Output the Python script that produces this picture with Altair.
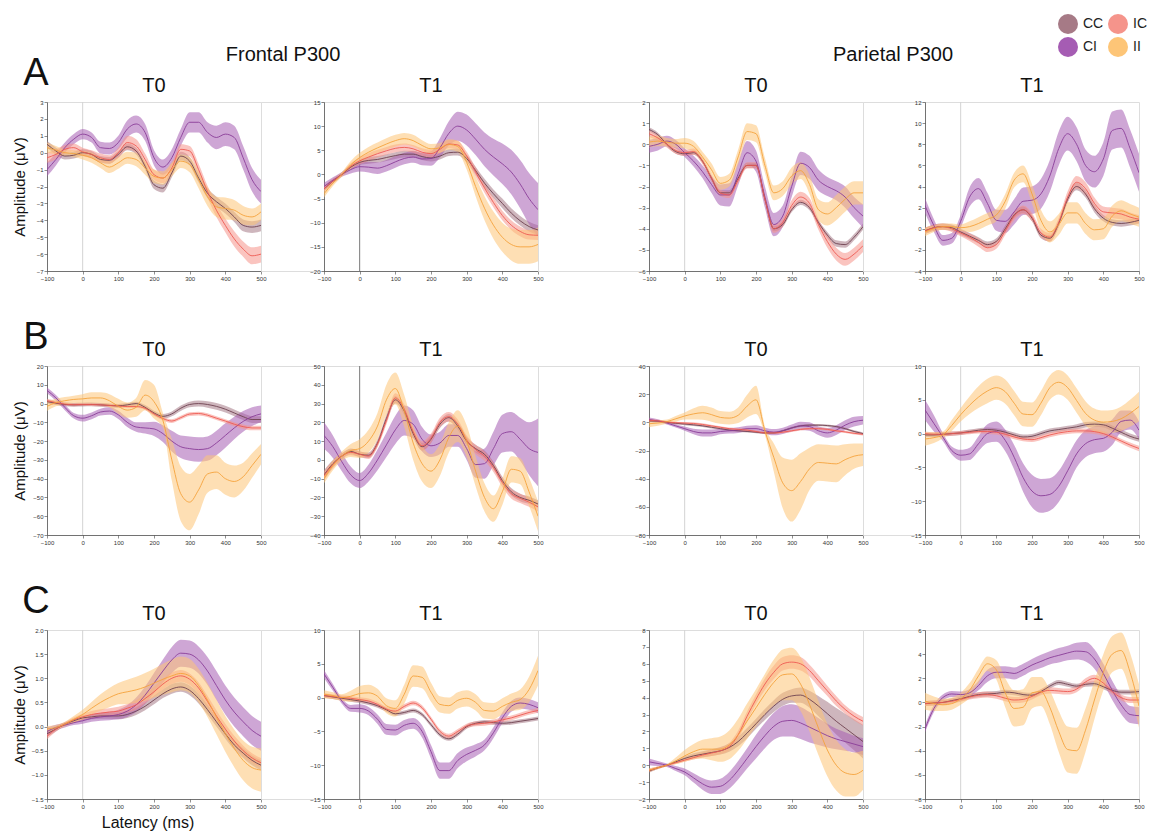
import altair as alt
import pandas as pd

FONT = "Liberation Sans"

LATENCY = [-100, -75, -50, -25, 0, 25, 50, 75, 100, 125, 150, 175, 200,
           225, 250, 275, 300, 325, 350, 375, 400, 425, 450, 475, 500]
X_TICKS = [-100, 0, 100, 200, 300, 400, 500]
ZERO_LINE = [0]
GROUPS = ["CC", "CI", "IC", "II"]
DRAW_ORDER = ["CC", "CI", "IC", "II"]
BAND_COLORS = ["#a67a86", "#a55cb3", "#f5948b", "#fdc577"]
LINE_COLORS = ["#6e4250", "#8a3d98", "#ee5a52", "#f5a33c"]

# ---------------- Row A ----------------
A1_YTICKS = [-7, -6, -5, -4, -3, -2, -1, 0, 1, 2, 3]
A1_MEAN = {
    "CC": [0.5, 0.1, -0.2, -0.15, 0.0, -0.1, -0.4, -0.45, -0.1, 0.35, 0.1, -0.8, -1.9, -2.1, -1.2, -0.2, -0.5, -1.5, -2.4, -2.9, -3.3, -3.8, -4.3, -4.4, -4.3],
    "IC": [-0.3, -0.1, 0.2, 0.3, 0.05, -0.1, -0.3, -0.4, 0.0, 0.6, 0.4, -0.4, -1.3, -1.5, -0.9, 0.2, 0.1, -1.0, -2.3, -3.4, -4.3, -5.1, -5.7, -6.1, -6.0],
    "CI": [-1.0, -0.4, 0.3, 0.8, 1.1, 0.9, 0.3, 0.25, 0.6, 1.4, 1.7, 1.2, -0.3, -0.85, -0.3, 0.9, 1.8, 1.8, 1.2, 0.9, 1.1, 0.9, -0.3, -1.6, -2.3],
    "II": [0.3, 0.15, 0.0, -0.05, -0.15, -0.3, -0.6, -0.85, -0.6, -0.3, -0.4, -0.9, -1.4, -1.5, -1.0, -0.5, -0.7, -1.6, -2.6, -3.2, -3.3, -3.4, -3.7, -3.8, -3.5],
}
A1_HALF = {
    "CC": [0.2, 0.2, 0.2, 0.2, 0.2, 0.2, 0.2, 0.2, 0.2, 0.2, 0.2, 0.2, 0.25, 0.25, 0.25, 0.25, 0.25, 0.25, 0.3, 0.3, 0.3, 0.3, 0.35, 0.35, 0.35],
    "IC": [0.3, 0.3, 0.25, 0.25, 0.25, 0.25, 0.25, 0.25, 0.3, 0.4, 0.4, 0.35, 0.3, 0.3, 0.3, 0.3, 0.3, 0.35, 0.35, 0.4, 0.4, 0.45, 0.45, 0.5, 0.5],
    "CI": [0.4, 0.35, 0.3, 0.3, 0.3, 0.3, 0.35, 0.35, 0.4, 0.5, 0.5, 0.5, 0.45, 0.45, 0.5, 0.5, 0.6, 0.6, 0.6, 0.7, 0.7, 0.7, 0.7, 0.7, 0.7],
    "II": [0.3, 0.25, 0.2, 0.2, 0.25, 0.3, 0.3, 0.35, 0.35, 0.35, 0.4, 0.4, 0.4, 0.4, 0.4, 0.4, 0.45, 0.5, 0.55, 0.6, 0.65, 0.6, 0.55, 0.5, 0.5],
}

A2_YTICKS = [-20, -15, -10, -5, 0, 5, 10, 15]
A2_MEAN = {
    "CC": [-3.0, -1.4, 0.0, 1.5, 2.5, 2.9, 3.1, 3.5, 3.9, 4.2, 4.2, 3.7, 3.4, 3.8, 4.5, 4.6, 3.3, 0.8, -1.8, -4.0, -6.0, -8.0, -9.6, -10.8, -11.5],
    "IC": [-3.0, -1.4, 0.0, 1.7, 2.8, 3.6, 4.3, 4.9, 5.4, 5.6, 5.3, 4.6, 4.3, 5.2, 6.3, 6.1, 3.8, 0.5, -2.8, -5.8, -8.5, -10.5, -11.8, -12.5, -12.6],
    "CI": [-2.5, -1.2, 0.0, 1.0, 1.6, 1.5, 1.3, 1.8, 2.6, 3.3, 3.6, 3.2, 3.3, 5.5, 8.5, 10.0, 9.2, 7.3, 5.2, 3.6, 2.2, 0.5, -2.0, -5.0, -7.3],
    "II": [-4.0, -1.8, 0.0, 2.0, 3.5, 4.6, 5.5, 6.3, 7.0, 7.4, 7.0, 6.0, 5.3, 5.5, 6.2, 5.8, 2.5, -2.5, -7.0, -10.5, -13.0, -14.5, -15.0, -15.0, -14.5],
}
A2_HALF = {
    "CC": [0.6, 0.5, 0.4, 0.5, 0.6, 0.7, 0.7, 0.7, 0.7, 0.7, 0.7, 0.7, 0.7, 0.7, 0.7, 0.7, 0.8, 0.8, 0.9, 0.9, 1.0, 1.0, 1.0, 1.0, 1.0],
    "IC": [0.6, 0.5, 0.4, 0.6, 0.7, 0.8, 0.8, 0.8, 0.8, 0.8, 0.8, 0.8, 0.8, 0.8, 0.9, 0.9, 0.9, 1.0, 1.0, 1.0, 1.0, 1.0, 1.0, 1.0, 1.0],
    "CI": [0.8, 0.6, 0.5, 0.8, 1.0, 1.1, 1.2, 1.2, 1.2, 1.2, 1.2, 1.3, 1.5, 2.0, 2.5, 3.0, 3.2, 3.3, 3.5, 3.8, 4.2, 4.6, 5.0, 5.3, 5.5],
    "II": [0.8, 0.6, 0.5, 0.8, 1.0, 1.1, 1.1, 1.2, 1.2, 1.2, 1.2, 1.1, 1.0, 1.0, 1.1, 1.2, 1.5, 2.0, 2.5, 2.8, 3.0, 3.3, 3.5, 3.5, 3.5],
}

A3_YTICKS = [-6, -5, -4, -3, -2, -1, 0, 1, 2]
A3_MEAN = {
    "CC": [0.7, 0.45, 0.0, -0.35, -0.45, -0.4, -0.8, -1.6, -2.3, -2.3, -1.6, -1.0, -1.0, -2.6, -4.0, -3.8, -3.1, -2.75, -3.0, -3.7, -4.3, -4.7, -4.75, -4.4, -3.9],
    "IC": [0.5, 0.3, 0.0, -0.3, -0.4, -0.35, -0.8, -1.6, -2.3, -2.4, -1.7, -1.0, -1.0, -2.6, -4.0, -3.7, -2.9, -2.5, -2.8, -3.8, -4.6, -5.2, -5.45, -5.2, -4.8],
    "CI": [-0.1, 0.0, 0.15, 0.0, -0.4, -0.8, -1.3, -1.9, -2.4, -2.4, -1.4, -0.4, -0.8, -2.5, -3.8, -3.4, -2.0, -0.9, -1.1, -1.7, -2.0, -2.2, -2.5, -3.0, -3.4],
    "II": [0.1, 0.15, 0.1, 0.05, 0.05, -0.1, -0.6, -1.2, -1.85, -1.7, -0.6, 0.6, 0.5, -1.0, -2.3, -2.1, -1.5, -1.25, -1.9, -3.1, -3.3, -3.0, -2.6, -2.3, -2.3],
}
A3_HALF = {
    "CC": [0.1, 0.1, 0.1, 0.1, 0.1, 0.1, 0.1, 0.12, 0.12, 0.12, 0.12, 0.12, 0.12, 0.12, 0.12, 0.12, 0.12, 0.12, 0.12, 0.12, 0.15, 0.15, 0.15, 0.15, 0.15],
    "IC": [0.15, 0.15, 0.15, 0.15, 0.15, 0.15, 0.15, 0.15, 0.15, 0.15, 0.15, 0.15, 0.15, 0.2, 0.2, 0.2, 0.25, 0.25, 0.25, 0.25, 0.3, 0.3, 0.3, 0.3, 0.3],
    "CI": [0.3, 0.3, 0.25, 0.2, 0.2, 0.25, 0.3, 0.4, 0.5, 0.55, 0.55, 0.55, 0.5, 0.5, 0.55, 0.5, 0.5, 0.55, 0.55, 0.5, 0.45, 0.45, 0.5, 0.5, 0.55],
    "II": [0.25, 0.25, 0.2, 0.2, 0.25, 0.25, 0.25, 0.3, 0.3, 0.3, 0.35, 0.4, 0.4, 0.35, 0.35, 0.35, 0.4, 0.4, 0.45, 0.5, 0.55, 0.6, 0.6, 0.55, 0.55],
}

A4_YTICKS = [-4, -2, 0, 2, 4, 6, 8, 10, 12]
A4_MEAN = {
    "CC": [-0.2, 0.1, 0.2, 0.1, -0.3, -0.7, -1.1, -1.5, -1.2, 0.0, 1.3, 1.8, 1.0, -0.6, -0.9, 0.5, 2.8, 4.0, 3.3, 1.9, 1.0, 0.6, 0.5, 0.6, 0.8],
    "IC": [-0.2, 0.1, 0.2, 0.0, -0.4, -0.8, -1.3, -1.8, -1.5, -0.2, 1.2, 1.8, 1.1, -0.4, -0.8, 0.6, 3.0, 4.4, 3.8, 2.4, 1.6, 1.5, 1.4, 1.1, 0.9],
    "CI": [2.2, 0.3, -1.1, -0.9, 0.7, 3.0, 3.8, 2.4, 0.8, 0.7, 1.6, 2.6, 2.7, 3.3, 5.0, 7.6, 9.0, 8.0, 6.0, 5.4, 6.6, 9.3, 9.5, 7.6, 5.3],
    "II": [-0.3, 0.0, 0.2, 0.2, 0.1, 0.2, 0.5, 0.9, 1.3, 2.6, 4.6, 5.2, 3.3, 0.8, -0.3, 0.4, 1.5, 1.5, 0.5, -0.1, 0.0, 1.2, 1.7, 1.4, 1.1],
}
A4_HALF = {
    "CC": [0.3, 0.3, 0.3, 0.3, 0.3, 0.3, 0.3, 0.3, 0.3, 0.3, 0.3, 0.3, 0.3, 0.3, 0.3, 0.3, 0.3, 0.35, 0.35, 0.35, 0.3, 0.3, 0.3, 0.3, 0.3],
    "IC": [0.3, 0.3, 0.3, 0.3, 0.3, 0.35, 0.4, 0.4, 0.4, 0.4, 0.4, 0.4, 0.4, 0.4, 0.4, 0.45, 0.55, 0.6, 0.6, 0.55, 0.5, 0.5, 0.5, 0.45, 0.4],
    "CI": [0.7, 0.6, 0.5, 0.5, 0.6, 0.9, 1.0, 1.0, 1.0, 1.1, 1.2, 1.3, 1.3, 1.4, 1.5, 1.6, 1.6, 1.6, 1.5, 1.5, 1.6, 1.8, 1.8, 1.8, 1.8],
    "II": [0.4, 0.3, 0.3, 0.3, 0.3, 0.5, 0.6, 0.6, 0.6, 0.7, 0.7, 0.8, 0.9, 1.0, 1.0, 1.0, 1.0, 1.0, 1.0, 1.0, 1.0, 1.0, 1.0, 0.95, 0.9],
}

# ---------------- Row B ----------------
B1_YTICKS = [-70, -60, -50, -40, -30, -20, -10, 0, 10, 20]
B1_MEAN = {
    "CC": [1.0, 0.2, -0.5, -0.7, -0.6, -0.5, -0.7, -1.0, -1.2, -0.7, 0.0, -2.0, -5.0, -6.8, -5.5, -2.5, -0.5, 0.0, -0.5, -1.5, -3.0, -5.0, -7.0, -8.5, -8.5],
    "IC": [1.5, 0.5, -0.3, -0.6, -0.5, -0.5, -0.7, -1.0, -1.3, -1.6, -1.6, -2.5, -5.5, -8.0, -9.3, -7.5, -5.6, -5.3, -6.2, -7.8, -9.3, -11.0, -12.3, -13.0, -13.0],
    "CI": [7.0, 3.0, -2.0, -6.5, -7.8, -6.5, -4.5, -4.0, -6.0, -10.0, -12.5, -13.0, -13.5, -16.0, -20.0, -23.0, -24.0, -24.5, -24.0, -21.0, -17.0, -13.0, -9.5, -7.0, -5.5],
    "II": [-1.5, 0.5, 1.5, 2.2, 2.5, 3.0, 3.0, 1.5, -1.5, -3.5, -2.0, 4.5, 1.0, -9.0, -30.0, -48.0, -52.5, -46.0, -37.5, -36.5, -40.0, -41.5, -39.0, -33.0, -27.0],
}
B1_HALF = {
    "CC": [1.0, 1.0, 1.0, 1.0, 1.0, 1.0, 1.0, 1.0, 1.0, 1.0, 1.0, 1.2, 1.2, 1.3, 1.3, 1.4, 1.5, 1.6, 1.7, 1.8, 1.8, 1.8, 1.8, 1.8, 1.8],
    "IC": [1.0, 1.0, 0.8, 0.8, 0.8, 0.8, 0.8, 0.8, 0.8, 0.8, 0.8, 0.9, 1.0, 1.0, 1.0, 1.0, 1.0, 1.0, 1.0, 1.0, 1.0, 1.1, 1.2, 1.2, 1.2],
    "CI": [1.5, 1.5, 1.5, 1.5, 1.8, 1.8, 1.8, 2.0, 2.2, 2.5, 2.5, 3.0, 3.8, 4.5, 5.5, 6.0, 6.5, 6.5, 6.5, 6.5, 6.5, 6.0, 5.5, 5.0, 4.5],
    "II": [2.5, 2.0, 2.0, 2.0, 2.5, 3.0, 3.0, 3.5, 4.0, 4.0, 5.0, 8.0, 9.0, 4.0, 11.0, 14.5, 15.0, 13.0, 10.0, 9.0, 8.5, 8.5, 7.5, 6.5, 5.5],
}

B2_YTICKS = [-40, -30, -20, -10, 0, 10, 20, 30, 40, 50]
B2_MEAN = {
    "CC": [-8.0, -2.0, 2.0, 4.5, 3.0, 2.5, 9.0, 22.0, 32.0, 26.0, 14.0, 7.0, 11.0, 19.0, 22.5, 18.0, 10.0, 6.0, 3.0, -3.0, -11.0, -17.0, -20.0, -21.5, -23.5],
    "IC": [-8.5, -2.5, 2.0, 4.0, 3.0, 2.0, 8.5, 21.0, 33.0, 27.0, 15.0, 7.5, 11.5, 20.0, 23.0, 19.0, 10.5, 5.5, 2.0, -4.0, -12.0, -18.0, -20.5, -22.5, -25.0],
    "CI": [13.0, 7.0, -1.0, -8.0, -11.0, -7.0, 0.0, 8.0, 16.0, 21.0, 19.0, 11.0, 7.5, 9.0, 13.0, 13.0, 6.0, -2.5, -2.0, 6.0, 14.0, 15.0, 11.0, 6.0, 4.0],
    "II": [-10.0, -3.0, 2.0, 5.0, 6.0, 10.0, 18.0, 32.0, 38.0, 26.0, 9.0, -2.0, -6.0, 0.0, 12.0, 18.0, 10.0, -6.0, -20.0, -26.0, -17.0, -5.0, -6.0, -17.0, -30.0],
}
B2_HALF = {
    "CC": [2.5, 2.0, 1.5, 1.5, 1.5, 1.5, 1.8, 2.0, 2.0, 2.0, 2.0, 2.0, 2.0, 2.0, 2.0, 2.0, 2.0, 2.0, 2.0, 2.0, 2.0, 2.0, 2.0, 2.0, 2.0],
    "IC": [2.5, 2.0, 1.5, 1.5, 1.5, 1.5, 1.8, 2.2, 2.5, 2.5, 2.5, 2.5, 2.5, 2.5, 2.5, 2.5, 2.5, 2.5, 2.5, 2.5, 2.5, 2.5, 2.5, 2.5, 2.5],
    "CI": [7.0, 6.0, 5.0, 4.5, 4.0, 4.5, 5.5, 6.5, 7.5, 8.0, 7.5, 6.5, 6.0, 6.0, 6.0, 6.0, 6.0, 7.0, 8.0, 9.0, 10.0, 10.5, 11.5, 14.0, 18.0],
    "II": [2.5, 2.5, 2.5, 3.5, 5.0, 6.0, 7.0, 8.0, 8.5, 8.5, 9.0, 9.5, 9.0, 8.5, 8.0, 8.5, 8.5, 8.0, 7.5, 7.0, 7.0, 7.0, 7.0, 7.5, 8.0],
}

B3_YTICKS = [-80, -60, -40, -20, 0, 20, 40]
B3_MEAN = {
    "CC": [1.0, 0.8, 0.0, -0.7, -1.2, -1.8, -2.5, -3.5, -4.5, -5.5, -6.0, -6.5, -7.0, -7.5, -7.5, -6.0, -4.0, -2.5, -2.0, -2.0, -2.3, -3.0, -4.5, -6.5, -8.0],
    "IC": [1.5, 1.0, 0.2, -0.3, -0.5, -0.8, -1.5, -2.5, -3.5, -4.5, -5.0, -5.5, -6.5, -7.5, -7.5, -7.0, -6.0, -5.0, -4.5, -4.5, -5.0, -6.0, -6.8, -7.8, -8.5],
    "CI": [2.0, 1.0, -0.5, -2.5, -4.5, -6.5, -7.5, -7.5, -6.5, -6.0, -5.5, -4.5, -4.5, -6.0, -7.0, -6.0, -4.0, -2.5, -3.0, -6.0, -7.5, -5.5, -2.0, 0.5, 1.5],
    "II": [-1.0, -0.5, 0.5, 2.5, 4.5, 6.0, 6.8, 5.5, 3.5, 3.0, 5.0, 11.5, 16.0, -6.0, -25.0, -43.0, -48.5, -42.0, -33.0, -28.5, -29.0, -29.5, -26.5, -24.0, -23.0],
}
B3_HALF = {
    "CC": [1.0, 0.8, 0.8, 0.8, 0.8, 0.8, 0.8, 0.8, 0.8, 0.8, 0.8, 0.8, 0.8, 0.8, 0.8, 0.8, 0.8, 0.8, 0.8, 0.8, 0.8, 0.8, 0.8, 0.8, 0.8],
    "IC": [1.0, 0.8, 0.8, 0.8, 0.8, 0.8, 0.8, 0.8, 0.8, 0.8, 0.8, 0.8, 0.8, 0.8, 0.8, 0.8, 0.8, 0.8, 0.8, 0.8, 0.8, 0.8, 0.8, 0.8, 0.8],
    "CI": [1.5, 1.2, 1.0, 1.2, 1.5, 2.0, 2.5, 2.5, 2.0, 2.0, 2.0, 2.0, 2.5, 2.2, 2.2, 2.2, 2.5, 3.0, 3.0, 3.0, 3.5, 3.5, 3.5, 3.5, 3.0],
    "II": [2.5, 2.0, 1.5, 2.0, 2.5, 4.0, 5.0, 5.0, 4.5, 4.5, 5.5, 8.0, 10.0, 3.0, 10.0, 18.0, 22.0, 20.0, 15.0, 13.0, 13.0, 13.0, 11.0, 9.0, 8.0],
}

B4_YTICKS = [-15, -10, -5, 0, 5, 10]
B4_MEAN = {
    "CC": [-0.2, -0.2, -0.1, 0.0, 0.1, 0.3, 0.5, 0.6, 0.5, 0.2, -0.2, -0.5, -0.4, 0.0, 0.4, 0.6, 0.8, 1.0, 1.3, 1.4, 1.3, 0.8, 0.2, -0.4, -0.8],
    "IC": [0.0, -0.1, -0.1, 0.0, 0.1, 0.2, 0.3, 0.3, 0.2, -0.1, -0.5, -0.8, -0.9, -0.6, -0.2, 0.1, 0.3, 0.4, 0.4, 0.3, 0.0, -0.5, -1.1, -1.7, -2.2],
    "CI": [3.5, 1.5, -0.5, -2.5, -3.2, -3.0, -1.5, 0.0, 0.3, -1.0, -3.5, -6.5, -8.5, -9.2, -9.0, -7.8, -5.5, -3.0, -1.5, -0.9, -0.7, 0.2, 1.8, 2.0, 0.5],
    "II": [-0.8, -0.6, -0.2, 1.2, 2.8, 4.2, 5.4, 6.3, 6.8, 6.2, 4.5, 2.9, 2.8, 4.5, 6.8, 7.6, 6.8, 4.9, 3.0, 2.0, 1.7, 1.8, 2.2, 3.0, 4.0],
}
B4_HALF = {
    "CC": [0.3, 0.3, 0.3, 0.3, 0.3, 0.3, 0.3, 0.3, 0.3, 0.35, 0.35, 0.35, 0.35, 0.35, 0.35, 0.35, 0.35, 0.4, 0.4, 0.4, 0.4, 0.4, 0.4, 0.4, 0.4],
    "IC": [0.3, 0.3, 0.3, 0.3, 0.3, 0.3, 0.3, 0.35, 0.35, 0.35, 0.35, 0.35, 0.35, 0.35, 0.35, 0.35, 0.35, 0.35, 0.35, 0.35, 0.35, 0.35, 0.35, 0.4, 0.4],
    "CI": [1.5, 1.2, 0.6, 0.6, 0.8, 0.9, 1.1, 1.4, 1.5, 1.6, 1.8, 2.1, 2.4, 2.5, 2.4, 2.3, 2.2, 2.0, 2.0, 2.0, 2.0, 1.9, 1.6, 1.4, 1.3],
    "II": [1.0, 0.8, 0.5, 0.8, 1.0, 1.3, 1.6, 1.8, 1.8, 1.8, 1.8, 1.8, 1.8, 1.8, 1.8, 1.8, 1.8, 1.8, 1.8, 1.7, 1.7, 1.7, 1.8, 2.0, 2.2],
}

# ---------------- Row C ----------------
C1_YTICKS = [-1.5, -1, -0.5, 0, 0.5, 1, 1.5, 2]
C1_MEAN = {
    "CC": [-0.15, -0.05, 0.05, 0.12, 0.18, 0.2, 0.22, 0.22, 0.22, 0.25, 0.32, 0.42, 0.55, 0.68, 0.78, 0.82, 0.75, 0.58, 0.35, 0.1, -0.15, -0.38, -0.55, -0.7, -0.8],
    "IC": [-0.2, -0.05, 0.05, 0.14, 0.2, 0.25, 0.28, 0.3, 0.32, 0.38, 0.45, 0.58, 0.72, 0.88, 1.0, 1.05, 0.98, 0.8, 0.52, 0.22, -0.05, -0.3, -0.5, -0.65, -0.75],
    "CI": [-0.1, -0.02, 0.03, 0.08, 0.12, 0.17, 0.2, 0.22, 0.25, 0.32, 0.45, 0.65, 0.9, 1.15, 1.38, 1.52, 1.5, 1.38, 1.15, 0.85, 0.55, 0.3, 0.1, -0.08, -0.2],
    "II": [-0.05, -0.02, 0.05, 0.15, 0.25, 0.38, 0.5, 0.6, 0.68, 0.72, 0.76, 0.82, 0.9, 0.98, 1.05, 1.1, 1.05, 0.85, 0.55, 0.2, -0.15, -0.45, -0.7, -0.85, -0.9],
}
C1_HALF = {
    "CC": [0.06, 0.05, 0.04, 0.04, 0.05, 0.05, 0.06, 0.06, 0.07, 0.07, 0.08, 0.08, 0.09, 0.09, 0.1, 0.1, 0.1, 0.1, 0.1, 0.1, 0.1, 0.1, 0.1, 0.1, 0.1],
    "IC": [0.06, 0.05, 0.04, 0.05, 0.06, 0.07, 0.08, 0.08, 0.09, 0.09, 0.1, 0.1, 0.1, 0.11, 0.12, 0.12, 0.12, 0.12, 0.12, 0.12, 0.11, 0.11, 0.11, 0.1, 0.1],
    "CI": [0.08, 0.06, 0.05, 0.05, 0.06, 0.07, 0.08, 0.09, 0.1, 0.12, 0.15, 0.18, 0.21, 0.24, 0.27, 0.28, 0.28, 0.28, 0.29, 0.3, 0.3, 0.3, 0.3, 0.3, 0.3],
    "II": [0.06, 0.05, 0.05, 0.07, 0.1, 0.13, 0.17, 0.2, 0.22, 0.25, 0.27, 0.29, 0.3, 0.32, 0.34, 0.35, 0.35, 0.35, 0.35, 0.36, 0.37, 0.39, 0.41, 0.43, 0.45],
}

C2_YTICKS = [-15, -10, -5, 0, 5, 10]
C2_MEAN = {
    "CC": [0.3, 0.1, -0.1, -0.3, -0.5, -0.8, -1.2, -1.8, -2.4, -2.2, -1.9, -2.5, -4.0, -5.5, -6.1, -5.4, -4.3, -3.8, -3.6, -3.7, -3.8, -3.7, -3.5, -3.3, -3.1],
    "IC": [0.3, 0.15, 0.0, -0.1, -0.3, -0.5, -1.0, -1.7, -2.0, -1.3, -0.8, -1.5, -3.2, -5.0, -5.7, -5.0, -4.2, -3.9, -3.8, -3.6, -3.3, -3.0, -2.6, -2.2, -1.9],
    "CI": [3.5, 1.5, -0.5, -1.6, -1.6, -2.0, -3.2, -4.7, -4.8, -4.1, -3.8, -5.0, -8.0, -10.8, -10.8, -9.3, -8.4, -7.8, -7.0, -5.2, -3.0, -1.3, -0.8, -1.0, -1.5],
    "II": [0.5, 0.3, 0.0, 0.2, 0.6, 0.7, 0.2, -1.2, -1.6, 0.5, 3.2, 3.0, 0.8, -1.0, -1.2, -0.4, -0.1, -0.7, -1.9, -2.0, -1.3, -0.7, -0.3, 1.2, 4.0],
}
C2_HALF = {
    "CC": [0.3, 0.3, 0.3, 0.3, 0.3, 0.3, 0.3, 0.3, 0.3, 0.3, 0.3, 0.3, 0.3, 0.3, 0.3, 0.3, 0.3, 0.3, 0.3, 0.3, 0.3, 0.3, 0.3, 0.3, 0.3],
    "IC": [0.35, 0.35, 0.35, 0.35, 0.35, 0.35, 0.35, 0.35, 0.35, 0.35, 0.35, 0.35, 0.35, 0.35, 0.35, 0.35, 0.35, 0.35, 0.35, 0.35, 0.35, 0.35, 0.35, 0.35, 0.35],
    "CI": [0.6, 0.5, 0.4, 0.5, 0.6, 0.6, 0.7, 0.8, 0.8, 0.8, 0.8, 0.9, 1.0, 1.2, 1.2, 1.1, 1.0, 0.9, 0.8, 0.8, 0.8, 0.8, 0.8, 0.8, 0.8],
    "II": [0.6, 0.5, 0.5, 0.8, 1.1, 1.2, 1.1, 1.1, 1.2, 1.4, 1.6, 1.6, 1.4, 1.2, 1.2, 1.2, 1.2, 1.2, 1.2, 1.2, 1.2, 1.3, 1.5, 1.9, 2.2],
}

C3_YTICKS = [-2, -1, 0, 1, 2, 3, 4, 5, 6, 7, 8]
C3_MEAN = {
    "CC": [-0.35, -0.15, 0.0, 0.2, 0.4, 0.55, 0.65, 0.75, 0.85, 1.05, 1.4, 1.9, 2.45, 3.0, 3.5, 3.9, 4.1, 4.15, 3.9, 3.5, 3.05, 2.6, 2.2, 1.8, 1.4],
    "IC": [-0.3, -0.15, 0.0, 0.15, 0.3, 0.45, 0.6, 0.72, 0.85, 1.1, 1.8, 2.9, 3.9, 4.8, 5.5, 6.0, 6.1, 6.0, 5.6, 5.0, 4.4, 3.8, 3.3, 2.9, 2.6],
    "CI": [0.2, 0.1, 0.0, -0.2, -0.4, -0.75, -1.1, -1.3, -1.25, -0.9, -0.3, 0.4, 1.1, 1.75, 2.3, 2.6, 2.65, 2.5, 2.25, 2.0, 1.75, 1.55, 1.4, 1.25, 1.1],
    "II": [-0.3, -0.15, 0.0, 0.25, 0.55, 0.8, 0.95, 0.95, 0.95, 1.2, 1.8, 2.6, 3.4, 4.2, 4.9, 5.35, 5.4, 4.8, 3.6, 2.2, 0.9, 0.0, -0.45, -0.55, -0.3],
}
C3_HALF = {
    "CC": [0.1, 0.08, 0.06, 0.1, 0.12, 0.15, 0.18, 0.2, 0.22, 0.25, 0.28, 0.3, 0.3, 0.32, 0.35, 0.38, 0.4, 0.45, 0.5, 0.6, 0.7, 0.78, 0.85, 0.92, 1.0],
    "IC": [0.1, 0.08, 0.06, 0.08, 0.1, 0.12, 0.15, 0.18, 0.2, 0.22, 0.25, 0.28, 0.3, 0.35, 0.4, 0.4, 0.4, 0.4, 0.35, 0.35, 0.3, 0.3, 0.25, 0.25, 0.25],
    "CI": [0.2, 0.15, 0.1, 0.15, 0.2, 0.28, 0.35, 0.4, 0.45, 0.5, 0.55, 0.6, 0.7, 0.75, 0.8, 0.9, 0.95, 0.95, 0.9, 0.8, 0.7, 0.6, 0.55, 0.5, 0.5],
    "II": [0.1, 0.08, 0.06, 0.2, 0.35, 0.45, 0.55, 0.65, 0.75, 0.85, 0.95, 1.05, 1.1, 1.2, 1.35, 1.5, 1.55, 1.6, 1.6, 1.6, 1.55, 1.5, 1.4, 1.3, 1.15],
}

C4_YTICKS = [-8, -6, -4, -2, 0, 2, 4, 6]
C4_MEAN = {
    "CC": [-0.1, -0.05, 0.0, 0.15, 0.3, 0.5, 0.65, 0.7, 0.75, 0.85, 0.8, 0.65, 0.6, 0.9, 1.35, 1.65, 1.5, 1.35, 1.5, 1.55, 1.3, 1.0, 0.85, 0.85, 0.9],
    "IC": [-0.1, -0.05, 0.0, 0.1, 0.25, 0.45, 0.6, 0.65, 0.55, 0.35, 0.2, 0.25, 0.5, 0.85, 1.0, 0.95, 0.9, 1.1, 1.7, 2.0, 1.6, 0.9, 0.4, 0.2, 0.2],
    "CI": [-2.2, -0.5, 0.4, 0.7, 0.65, 0.8, 1.4, 2.2, 2.5, 2.5, 2.4, 2.7, 3.1, 3.4, 3.7, 3.9, 4.1, 4.25, 4.2, 3.6, 2.4, 1.0, -0.2, -1.0, -1.1],
    "II": [0.1, -0.1, -0.2, -0.1, 0.3, 1.0, 2.2, 3.2, 2.7, 0.8, -0.5, -0.4, 0.8, 0.9, -0.4, -2.4, -3.9, -4.0, -2.3, 0.2, 2.5, 4.0, 4.3, 2.5, -0.3],
}
C4_HALF = {
    "CC": [0.2, 0.2, 0.2, 0.2, 0.2, 0.2, 0.2, 0.2, 0.2, 0.2, 0.2, 0.2, 0.2, 0.2, 0.2, 0.2, 0.2, 0.2, 0.2, 0.2, 0.2, 0.2, 0.2, 0.2, 0.2],
    "IC": [0.2, 0.2, 0.2, 0.2, 0.2, 0.2, 0.25, 0.25, 0.25, 0.25, 0.25, 0.25, 0.25, 0.25, 0.25, 0.25, 0.25, 0.25, 0.3, 0.3, 0.3, 0.25, 0.25, 0.25, 0.25],
    "CI": [0.3, 0.3, 0.25, 0.25, 0.25, 0.3, 0.4, 0.5, 0.5, 0.5, 0.5, 0.5, 0.5, 0.55, 0.55, 0.6, 0.6, 0.7, 0.8, 0.8, 0.8, 0.8, 0.75, 0.7, 0.7],
    "II": [0.7, 0.6, 0.5, 0.5, 0.5, 0.6, 0.6, 0.6, 0.8, 1.2, 1.5, 1.5, 1.3, 1.2, 1.4, 1.7, 1.9, 1.9, 1.8, 1.6, 1.5, 1.5, 1.5, 1.6, 1.8],
}

# ---------------- chart building ----------------
AXIS = dict(title=None, grid=False, labelFontSize=6, labelColor="#333333", labelFont=FONT,
            tickSize=3, tickWidth=0.6, tickColor="#444444", domainColor="#444444",
            domainWidth=0.7, labelPadding=1, labelFlush=False)

LEGEND = alt.Legend(title=None, orient="none", legendX=1011, legendY=-88, columns=2,
                    direction="vertical",
                    symbolType="circle", symbolSize=400, symbolOpacity=1, symbolStrokeWidth=0,
                    labelFontSize=14, labelFont=FONT, labelColor="#222222",
                    columnPadding=4, rowPadding=3, labelOffset=5, padding=0)

PW, PH = 214, 169
GAP_INNER_LEFT, GAP_MIDDLE, GAP_INNER_RIGHT = 63, 111, 62


def build_df(mean, half):
    rows = []
    for g in DRAW_ORDER:
        assert len(mean[g]) == len(LATENCY) and len(half[g]) == len(LATENCY), g
        for i, x in enumerate(LATENCY):
            m = mean[g][i]
            h = half[g][i]
            rows.append({"latency": x, "group": g, "mean": m, "lo": m - h, "hi": m + h})
    return pd.DataFrame(rows)


def text_layer(label, x, y, size, angle=None):
    kw = dict(fontSize=size, align="center", baseline="middle", font=FONT, color="#111111")
    if angle is not None:
        kw["angle"] = angle
    return alt.Chart(pd.DataFrame({"label": [label]})).mark_text(**kw).encode(
        text="label:N", x=alt.value(x), y=alt.value(y))


def spacer(w):
    return alt.Chart(pd.DataFrame({"s": [0]})).mark_point(opacity=0).encode(
        x=alt.value(0), y=alt.value(0)).properties(width=w, height=PH)


def panel(mean, half, yticks, title, zero_color, texts=()):
    df = build_df(mean, half)
    xenc = alt.X("latency:Q", scale=alt.Scale(domain=[-100, 500], nice=False, zero=False),
                 axis=alt.Axis(values=X_TICKS, **AXIS))
    yscale = alt.Scale(domain=[yticks[0], yticks[-1]], nice=False, zero=False)
    yaxis = alt.Axis(values=yticks, **AXIS)
    zero = alt.Chart(pd.DataFrame({"latency": ZERO_LINE})).mark_rule(
        color=zero_color, strokeWidth=1).encode(x=xenc)
    band = alt.Chart(df).mark_area(opacity=0.55, interpolate="monotone", clip=True).encode(
        x=xenc,
        y=alt.Y("lo:Q", scale=yscale, axis=yaxis),
        y2="hi:Q",
        color=alt.Color("group:N", scale=alt.Scale(domain=GROUPS, range=BAND_COLORS), legend=LEGEND),
    )
    line = alt.Chart(df).mark_line(strokeWidth=0.9, interpolate="monotone", clip=True).encode(
        x=xenc,
        y=alt.Y("mean:Q", scale=yscale, axis=yaxis),
        stroke=alt.Stroke("group:N", scale=alt.Scale(domain=GROUPS, range=LINE_COLORS), legend=None),
    )
    head = text_layer(title, PW / 2, -16, 20)
    return alt.layer(zero, band, line, head, *texts).properties(width=PW, height=PH)


LIGHT = "#d4d4d4"
DARK = "#7a7a7a"
AMP = "Amplitude (μV)"


def left_texts(letter, extra=()):
    return [text_layer(letter, -11, -28, 38), text_layer(AMP, -27, 85, 15, angle=270)] + list(extra)


A1 = panel(A1_MEAN, A1_HALF, A1_YTICKS, "T0", LIGHT,
           left_texts("A", [text_layer("Frontal P300", 236, -47, 20)]))
A2 = panel(A2_MEAN, A2_HALF, A2_YTICKS, "T1", DARK)
A3 = panel(A3_MEAN, A3_HALF, A3_YTICKS, "T0", LIGHT, [text_layer("Parietal P300", 244, -47, 20)])
A4 = panel(A4_MEAN, A4_HALF, A4_YTICKS, "T1", LIGHT)

B1 = panel(B1_MEAN, B1_HALF, B1_YTICKS, "T0", LIGHT, left_texts("B"))
B2 = panel(B2_MEAN, B2_HALF, B2_YTICKS, "T1", DARK)
B3 = panel(B3_MEAN, B3_HALF, B3_YTICKS, "T0", LIGHT)
B4 = panel(B4_MEAN, B4_HALF, B4_YTICKS, "T1", LIGHT)

C1 = panel(C1_MEAN, C1_HALF, C1_YTICKS, "T0", LIGHT,
           left_texts("C", [text_layer("Latency (ms)", 101, 193, 16)]))
C2 = panel(C2_MEAN, C2_HALF, C2_YTICKS, "T1", DARK)
C3 = panel(C3_MEAN, C3_HALF, C3_YTICKS, "T0", LIGHT)
C4 = panel(C4_MEAN, C4_HALF, C4_YTICKS, "T1", LIGHT)

cells = []
for p1, p2, p3, p4 in [(A1, A2, A3, A4), (B1, B2, B3, B4), (C1, C2, C3, C4)]:
    cells += [p1, spacer(GAP_INNER_LEFT), p2, spacer(GAP_MIDDLE), p3, spacer(GAP_INNER_RIGHT), p4]

chart = alt.concat(*cells, columns=7, spacing={"row": 95, "column": 0}, bounds="flush").properties(
    padding={"left": 4, "top": 6, "right": 2, "bottom": 0}
).configure_view(strokeWidth=0).configure(font=FONT, background="white")

chart.save("out.html", embed_options={"renderer": "svg", "actions": False})
